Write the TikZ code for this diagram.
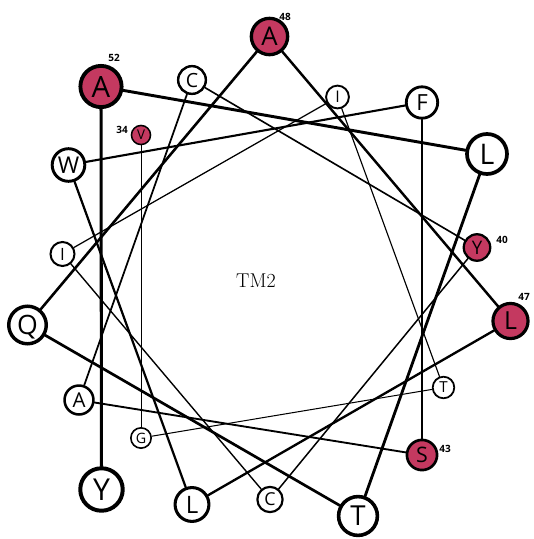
\documentclass[tikz,border=0pt]{standalone}
\usepackage{fontspec}
\setsansfont{Open Sans}
\usetikzlibrary{backgrounds}
\definecolor{hot}{RGB}{196,57,96}
\tikzset{
  res/.style={circle, draw=black, inner sep=0pt, text depth=0pt, font=\sffamily},
  numlbl/.style={font=\sffamily\bfseries\fontsize{10}{12}\selectfont, inner sep=0pt},
  bond/.style={draw=black, line cap=round}
}
\begin{document}
\begin{tikzpicture}[x=1pt,y=-1pt]
\useasboundingbox (0,0) rectangle (534,539);
% residues 34..53 of the helix; k = residue - 34
\foreach \k/\x/\y/\aa/\col in {
  0/141/135/V/hot, 1/141/438/G/white, 2/443.5/387.5/T/white,
  3/337.5/97/I/white, 4/62.5/254/I/white, 5/270/499.5/C/white,
  6/477/247.5/Y/hot, 7/192/80/C/white, 8/79/400/A/white,
  9/422/455/S/hot, 10/422/102.5/F/white, 11/68.5/165/W/white,
  12/192/504.5/L/white, 13/510.5/321/L/hot, 14/269.5/36.5/A/hot,
  15/27.5/325/Q/white, 16/358/516/T/white, 17/487/154/L/white,
  18/101/86.5/A/hot, 19/101.5/489.5/Y/white}{
  \pgfmathsetmacro\rr{10.3+0.68*\k}
  \pgfmathsetmacro\bw{1.5+0.13*\k}
  \pgfmathsetmacro\dd{2*\rr-\bw}
  \pgfmathsetmacro\fs{1.3*\rr}
  \node[res, fill=\col, line width=\bw pt, minimum size=\dd pt,
        font=\sffamily\fontsize{\fs}{\fs}\selectfont] (r\k) at (\x,\y) {\aa};
}
% helix backbone, thickening along the sequence
\begin{pgfonlayer}{background}
\foreach \k in {0,...,18}{
  \pgfmathtruncatemacro\n{\k+1}
  \pgfmathsetmacro\lw{0.9+0.12*\k}
  \draw[bond, line width=\lw pt] (r\k) -- (r\n);
}
\end{pgfonlayer}
% residue numbers
\node[numlbl] (n34) at (122,130) {34};
\node[numlbl] (n40) at (502,240) {40};
\node[numlbl] (n43) at (445,449) {43};
\node[numlbl] (n47) at (524,297) {47};
\node[numlbl] (n48) at (285,17) {48};
\node[numlbl] (n52) at (114,58) {52};
\node[font=\fontsize{20}{24}\selectfont] (tm) at (256,281) {TM2};
\end{tikzpicture}
\end{document}
